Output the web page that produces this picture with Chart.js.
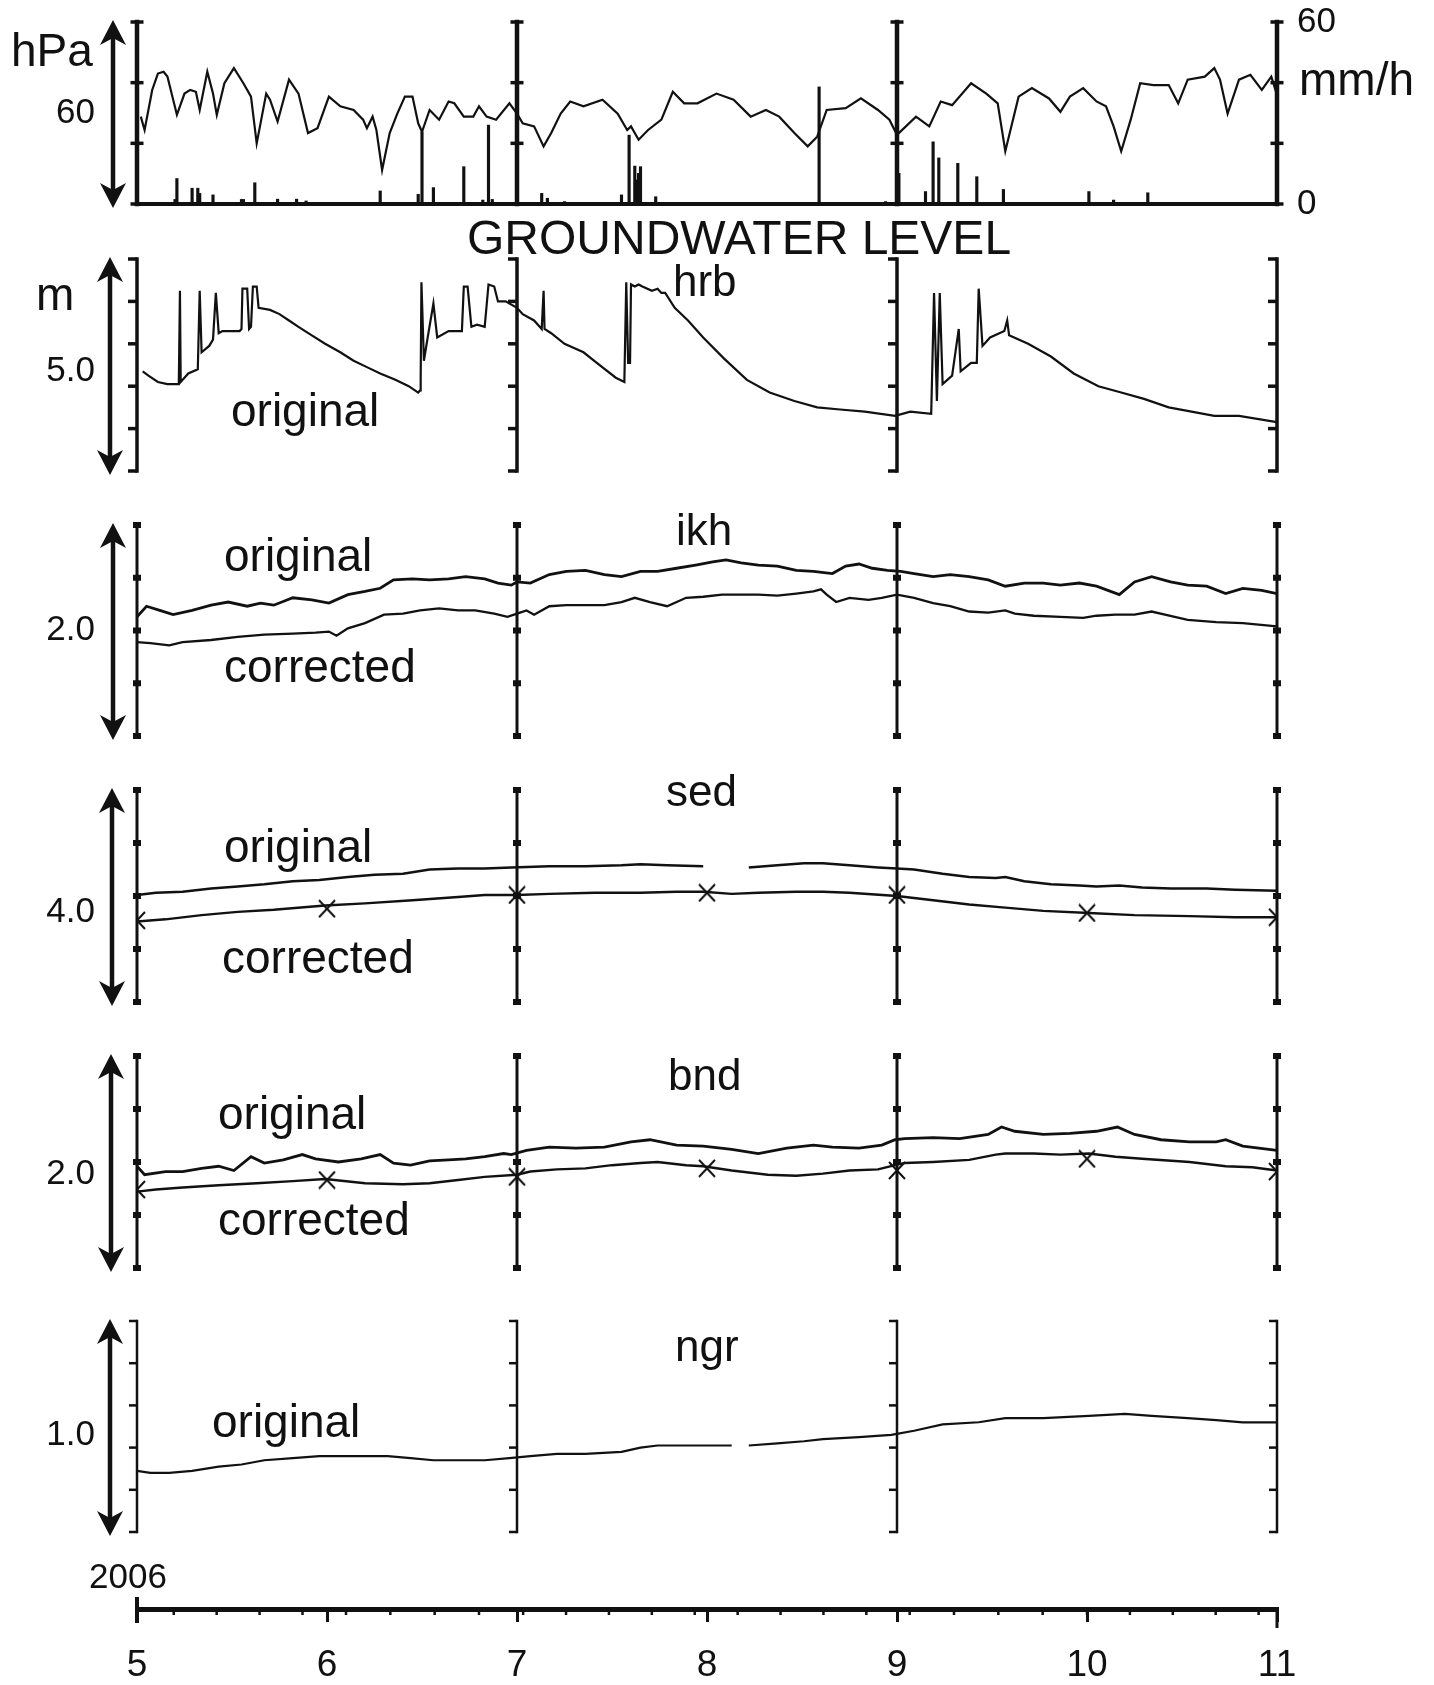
<!DOCTYPE html>
<html>
<head>
<meta charset="utf-8">
<title>Groundwater level 2006</title>
<script src="https://cdn.jsdelivr.net/npm/chart.js@4.4.1/dist/chart.umd.min.js"></script>
<style>
  html, body { margin: 0; padding: 0; background: #fff; }
  #page { position: relative; width: 1434px; height: 1685px; overflow: hidden; background: #fff; }
  #page canvas { position: absolute; left: 0; }
  .lbl { position: absolute; z-index: 2; font-family: "Liberation Sans", Arial, sans-serif;
         font-size: 46px; line-height: 1; color: #111; white-space: nowrap; }
</style>
</head>
<body>
<div id="page">
  <div class="lbl" style="left:11px;top:27px">hPa</div>
  <div class="lbl" style="left:1299px;top:56px">mm/h</div>
  <div class="lbl" style="left:467px;top:214px;font-size:48px">GROUNDWATER LEVEL</div>
  <div class="lbl" style="left:673px;top:259px;font-size:44px">hrb</div>
  <div class="lbl" style="left:36px;top:271px">m</div>
  <div class="lbl" style="left:231px;top:387px">original</div>
  <div class="lbl" style="left:676px;top:508px;font-size:44px">ikh</div>
  <div class="lbl" style="left:224px;top:532px">original</div>
  <div class="lbl" style="left:224px;top:643px">corrected</div>
  <div class="lbl" style="left:666px;top:769px;font-size:44px">sed</div>
  <div class="lbl" style="left:224px;top:823px">original</div>
  <div class="lbl" style="left:222px;top:934px">corrected</div>
  <div class="lbl" style="left:668px;top:1053px;font-size:44px">bnd</div>
  <div class="lbl" style="left:218px;top:1090px">original</div>
  <div class="lbl" style="left:218px;top:1196px">corrected</div>
  <div class="lbl" style="left:675px;top:1324px;font-size:44px">ngr</div>
  <div class="lbl" style="left:212px;top:1398px">original</div>
  <div class="lbl" style="left:89px;top:1558px;font-size:35px">2006</div>
</div>
<script>
// ---- data (month of 2006 as fractional month, 5 = 1 May) ----
const monthTicks = [5, 6, 7, 8, 9, 10, 11];
const frameMonths = [5, 7, 9, 11];
const rainAxisTicks = [0, 60];

const pressureMonth = [5.02,5.04,5.08,5.11,5.14,5.16,5.21,5.25,5.28,5.31,
  5.33,5.37,5.40,5.42,5.46,5.51,5.56,5.60,5.63,5.68,
  5.70,5.74,5.80,5.85,5.90,5.95,6.01,6.07,6.14,6.19,
  6.21,6.24,6.26,6.29,6.33,6.37,6.41,6.45,6.48,6.50,
  6.54,6.59,6.64,6.67,6.72,6.77,6.80,6.84,6.89,6.96,
  7.00,7.03,7.09,7.14,7.18,7.23,7.28,7.35,7.45,7.53,
  7.58,7.60,7.64,7.69,7.76,7.82,7.88,7.95,8.05,8.14,
  8.23,8.31,8.38,8.46,8.53,8.58,8.63,8.73,8.81,8.90,
  8.96,9.00,9.10,9.17,9.23,9.29,9.39,9.47,9.53,9.57,
  9.64,9.71,9.80,9.86,9.91,9.98,10.05,10.10,10.14,10.18,
  10.23,10.28,10.35,10.43,10.48,10.53,10.62,10.67,10.70,10.74,
  10.80,10.86,10.92,10.97,11.00];
const pressureHpa = [59.4,57.2,63.8,66.5,66.8,66.0,59.7,63.2,63.8,63.5,
  60.5,66.8,63.2,59.7,64.9,67.4,64.9,62.7,55.0,63.2,
  62.2,58.6,65.5,63.2,56.7,57.5,62.7,61.1,60.5,58.9,
  57.5,59.4,57.2,50.6,56.7,59.9,62.7,62.7,58.3,56.9,
  60.5,58.9,61.9,61.6,59.4,59.4,61.1,59.4,58.9,61.6,
  59.9,58.3,57.8,54.5,56.7,59.9,61.9,61.1,62.2,59.9,
  57.2,57.8,55.6,57.2,58.9,63.5,61.6,61.6,63.2,62.2,
  59.4,60.5,59.4,56.7,54.5,56.1,60.5,60.8,62.4,60.5,
  58.9,56.4,59.4,57.8,61.9,61.3,64.9,63.2,61.6,53.7,
  62.7,64.1,62.4,60.2,62.7,64.1,61.9,61.1,57.8,53.7,
  58.9,64.9,64.6,64.6,61.6,65.5,66.0,67.4,65.5,59.9,
  65.5,66.3,63.8,66.0,63.0];

const rainMonth = [5.20,5.21,5.29,5.32,5.33,5.40,5.55,5.56,5.62,5.74,
  5.84,5.89,6.28,6.48,6.50,6.56,6.72,6.82,6.85,6.87,
  7.13,7.16,7.25,7.55,7.59,7.62,7.63,7.64,7.65,7.73,
  8.59,8.94,9.01,9.15,9.19,9.22,9.32,9.42,9.56,10.01,
  10.14,10.32,10.72];
const rainMmh = [1.5,8.4,5.2,5.2,3.5,3.0,1.5,1.5,7.0,1.6,
  1.6,1.0,4.3,3.2,23.8,5.4,12.3,1.3,26.0,1.5,
  3.5,1.9,0.8,3.0,22.7,12.5,7.9,10.1,12.3,2.4,
  38.6,0.8,10.1,4.1,20.5,15.2,13.4,9.0,4.8,4.1,
  1.3,3.7,0.4];

const hrbMonth = [5.03,5.06,5.11,5.16,5.21,5.22,5.226,5.23,5.27,5.32,
  5.33,5.34,5.38,5.40,5.415,5.43,5.45,5.49,5.54,5.55,
  5.555,5.58,5.59,5.60,5.61,5.63,5.64,5.70,5.75,5.80,
  5.85,5.92,5.99,6.07,6.14,6.21,6.28,6.36,6.43,6.48,
  6.49,6.493,6.497,6.51,6.53,6.56,6.58,6.64,6.71,6.72,
  6.74,6.76,6.79,6.83,6.85,6.88,6.90,6.94,7.00,7.03,
  7.09,7.13,7.14,7.145,7.18,7.25,7.35,7.42,7.52,7.565,
  7.575,7.585,7.595,7.60,7.62,7.64,7.66,7.71,7.74,7.76,
  7.78,7.83,7.90,7.98,8.09,8.21,8.33,8.46,8.58,8.70,
  8.83,8.99,9.07,9.18,9.195,9.21,9.225,9.24,9.29,9.325,
  9.335,9.39,9.42,9.43,9.45,9.49,9.565,9.58,9.59,9.69,
  9.81,9.93,10.06,10.18,10.30,10.43,10.55,10.67,10.80,11.00];
const hrbLevel = [5.00,4.98,4.95,4.94,4.94,4.94,5.38,4.95,4.99,5.01,
  5.38,5.09,5.12,5.15,5.37,5.18,5.19,5.19,5.19,5.20,
  5.39,5.39,5.20,5.21,5.40,5.40,5.30,5.29,5.27,5.24,
  5.21,5.17,5.13,5.09,5.05,5.02,4.99,4.96,4.93,4.90,
  4.91,4.96,5.42,5.05,5.16,5.32,5.16,5.19,5.19,5.40,
  5.40,5.21,5.22,5.21,5.41,5.40,5.33,5.33,5.30,5.27,
  5.24,5.20,5.38,5.20,5.18,5.13,5.09,5.04,4.97,4.95,
  5.42,5.04,5.04,5.41,5.40,5.41,5.40,5.38,5.39,5.37,
  5.37,5.30,5.24,5.16,5.06,4.96,4.90,4.86,4.83,4.82,
  4.81,4.79,4.81,4.80,5.37,4.86,5.37,4.94,4.98,5.20,
  5.00,5.04,5.04,5.39,5.12,5.16,5.19,5.24,5.17,5.13,
  5.07,4.99,4.93,4.90,4.87,4.83,4.81,4.79,4.79,4.76];

const ikhOrigMonth = [5.00,5.05,5.12,5.19,5.29,5.39,5.48,5.58,5.65,5.72,
  5.82,5.92,6.01,6.11,6.20,6.28,6.35,6.45,6.54,6.64,
  6.73,6.83,6.90,6.97,7.00,7.07,7.17,7.26,7.36,7.46,
  7.55,7.65,7.74,7.84,7.94,8.03,8.10,8.18,8.27,8.37,
  8.47,8.56,8.66,8.73,8.80,8.87,8.95,9.02,9.09,9.19,
  9.28,9.38,9.48,9.57,9.67,9.77,9.86,9.96,10.05,10.17,
  10.25,10.34,10.44,10.53,10.63,10.73,10.82,10.92,11.00];
const ikhOrig = [2.13,2.23,2.19,2.15,2.19,2.24,2.27,2.23,2.26,2.24,
  2.31,2.29,2.26,2.34,2.37,2.40,2.48,2.49,2.48,2.49,
  2.51,2.49,2.45,2.43,2.46,2.45,2.53,2.56,2.57,2.53,
  2.51,2.56,2.56,2.59,2.62,2.65,2.67,2.64,2.62,2.61,
  2.57,2.56,2.54,2.61,2.63,2.59,2.57,2.56,2.54,2.51,
  2.53,2.51,2.48,2.42,2.45,2.45,2.43,2.45,2.42,2.34,
  2.46,2.51,2.46,2.43,2.42,2.35,2.40,2.38,2.35];
const ikhCorrMonth = [5.00,5.07,5.17,5.24,5.39,5.53,5.67,5.82,5.94,6.01,
  6.05,6.11,6.20,6.30,6.40,6.49,6.59,6.69,6.78,6.88,
  6.95,7.00,7.05,7.09,7.17,7.26,7.36,7.46,7.55,7.62,
  7.70,7.79,7.89,7.98,8.08,8.18,8.27,8.37,8.47,8.56,
  8.60,8.63,8.68,8.75,8.85,8.92,9.00,9.09,9.19,9.28,
  9.38,9.48,9.57,9.62,9.72,9.86,9.98,10.05,10.15,10.25,
  10.34,10.41,10.53,10.68,10.82,11.00];
const ikhCorr = [1.89,1.88,1.86,1.89,1.91,1.94,1.96,1.97,1.98,1.99,
  1.95,2.02,2.07,2.15,2.16,2.19,2.21,2.19,2.19,2.16,
  2.13,2.16,2.19,2.15,2.23,2.24,2.24,2.24,2.27,2.31,
  2.27,2.23,2.31,2.32,2.34,2.34,2.34,2.33,2.35,2.37,
  2.39,2.34,2.27,2.31,2.29,2.31,2.34,2.31,2.26,2.23,
  2.18,2.17,2.19,2.16,2.14,2.13,2.12,2.14,2.15,2.15,
  2.18,2.15,2.10,2.08,2.07,2.04];

const sedOrigMonth = [5.00,5.10,5.24,5.39,5.53,5.67,5.82,5.96,6.11,6.25,
  6.40,6.54,6.69,6.83,6.97,7.17,7.36,7.55,7.65,7.79,
  7.98,8.10,8.22,8.37,8.51,8.61,8.75,8.90,9.00,9.09,
  9.24,9.38,9.52,9.57,9.67,9.81,9.96,10.05,10.17,10.29,
  10.44,10.63,10.78,11.00];
const sedOrig = [4.16,4.18,4.19,4.22,4.24,4.26,4.29,4.30,4.33,4.35,
  4.36,4.40,4.41,4.41,4.42,4.43,4.43,4.44,4.45,4.44,
  4.43,null,4.42,4.44,4.46,4.46,4.44,4.42,4.41,4.40,
  4.36,4.33,4.32,4.33,4.29,4.26,4.25,4.24,4.25,4.23,
  4.22,4.22,4.21,4.20];
const sedCorrMonth = [5.00,5.15,5.34,5.53,5.72,5.99,6.20,6.45,6.69,6.83,
  7.00,7.17,7.41,7.65,7.84,7.98,8.13,8.27,8.47,8.61,
  8.75,9.00,9.19,9.38,9.57,9.77,10.01,10.25,10.54,10.78,
  11.00];
const sedCorr = [3.91,3.93,3.97,4.00,4.02,4.06,4.08,4.11,4.14,4.16,
  4.16,4.17,4.18,4.18,4.19,4.19,4.17,4.18,4.19,4.19,
  4.18,4.15,4.11,4.07,4.04,4.01,3.99,3.97,3.96,3.95,
  3.95];
const sedManualMonth = [5, 6, 7, 8, 9, 10, 11];
const sedManual = [3.92, 4.03, 4.16, 4.18, 4.16, 3.99, 3.95];

const bndOrigMonth = [5.00,5.04,5.15,5.24,5.34,5.43,5.51,5.60,5.67,5.77,
  5.87,5.94,6.06,6.18,6.28,6.35,6.44,6.54,6.64,6.73,
  6.83,6.93,6.97,7.05,7.17,7.31,7.46,7.60,7.70,7.84,
  7.98,8.13,8.27,8.42,8.56,8.66,8.80,8.92,8.99,9.04,
  9.19,9.33,9.48,9.55,9.62,9.77,9.91,10.05,10.16,10.25,
  10.39,10.54,10.68,10.73,10.82,11.00];
const bndOrig = [2.08,2.00,2.03,2.03,2.06,2.08,2.04,2.17,2.11,2.14,
  2.19,2.15,2.12,2.15,2.19,2.11,2.09,2.13,2.14,2.15,
  2.17,2.20,2.19,2.23,2.26,2.25,2.26,2.31,2.33,2.28,
  2.27,2.24,2.20,2.25,2.28,2.26,2.25,2.28,2.33,2.34,
  2.35,2.34,2.38,2.45,2.41,2.38,2.39,2.41,2.45,2.38,
  2.33,2.31,2.31,2.33,2.27,2.23];
const bndCorrMonth = [5.00,5.10,5.24,5.43,5.63,5.82,5.99,6.20,6.40,6.54,
  6.69,6.83,7.00,7.07,7.21,7.36,7.50,7.65,7.74,7.89,
  7.98,8.13,8.32,8.47,8.61,8.75,8.90,8.99,9.04,9.19,
  9.38,9.52,9.57,9.72,9.86,10.01,10.15,10.29,10.54,10.73,
  10.87,11.00];
const bndCorr = [1.84,1.86,1.88,1.90,1.92,1.94,1.96,1.92,1.91,1.92,
  1.95,1.98,2.00,2.03,2.05,2.06,2.09,2.11,2.12,2.09,
  2.08,2.04,2.00,1.99,2.01,2.04,2.05,2.09,2.11,2.12,
  2.14,2.19,2.20,2.20,2.19,2.20,2.17,2.15,2.12,2.08,
  2.07,2.04];
const bndManualMonth = [5, 6, 7, 8, 9, 10, 11];
const bndManual = [1.86, 1.95, 1.98, 2.06, 2.04, 2.15, 2.03];

const ngrMonth = [5.00,5.07,5.17,5.29,5.43,5.55,5.67,5.82,5.96,6.16,
  6.32,6.44,6.56,6.68,6.83,6.96,7.07,7.21,7.36,7.55,
  7.65,7.74,7.94,8.13,8.17,8.22,8.37,8.51,8.61,8.80,
  8.97,9.09,9.24,9.43,9.57,9.77,10.01,10.20,10.34,10.53,
  10.68,10.82,11.00];
const ngrLevel = [0.83,0.82,0.82,0.83,0.85,0.86,0.88,0.89,0.90,0.90,
  0.90,0.89,0.88,0.88,0.88,0.89,0.90,0.91,0.91,0.92,
  0.94,0.95,0.95,0.95,null,0.95,0.96,0.97,0.98,0.99,
  1.00,1.02,1.05,1.06,1.08,1.08,1.09,1.10,1.09,1.08,
  1.07,1.06,1.06];

// ---- drawing ----
const FONT = '"Liberation Sans", Arial, sans-serif';
const INK = '#111';
const PAGE_W = 1434, AREA_L = 137, AREA_R = 1277;
const page = document.getElementById('page');

Chart.defaults.font.family = FONT;
Chart.defaults.color = INK;

function pts(xs, ys) { return xs.map((x, i) => ({ x, y: ys[i] })); }

function line(xs, ys, w) {
  return { type: 'line', data: pts(xs, ys), borderColor: INK, borderWidth: w,
    pointRadius: 0, tension: 0, spanGaps: false, yAxisID: 'y' };
}

// "x" used for the manual measurements
const xMark = (() => {
  const c = document.createElement('canvas');
  c.width = 18; c.height = 19;
  const g = c.getContext('2d');
  g.strokeStyle = INK; g.lineWidth = 2;
  g.beginPath(); g.moveTo(1, 1); g.lineTo(17, 18); g.moveTo(17, 1); g.lineTo(1, 18); g.stroke();
  return c;
})();

function marks(xs, ys) {
  return { type: 'line', data: pts(xs, ys), showLine: false, pointStyle: xMark,
    pointRadius: 9, yAxisID: 'y' };
}

function drawArrow(ctx, x, y1, y2) {
  const hw = 13, hl = 25, notch = 7;
  ctx.lineWidth = 4.5;
  ctx.beginPath(); ctx.moveTo(x, y1 + hl - notch); ctx.lineTo(x, y2 - hl + notch); ctx.stroke();
  [[y1, 1], [y2, -1]].forEach(([tip, d]) => {
    ctx.beginPath();
    ctx.moveTo(x, tip);
    ctx.lineTo(x + hw, tip + d * hl);
    ctx.lineTo(x, tip + d * (hl - notch));
    ctx.lineTo(x - hw, tip + d * hl);
    ctx.closePath();
    ctx.fill();
  });
}

// vertical month bars with tick marks, plus the double arrow on the left
const framePlugin = {
  id: 'frames',
  beforeDatasetsDraw(chart, args, o) {
    const { ctx } = chart;
    const xs = chart.scales.x, ys = chart.scales.y;
    const top = ys.getPixelForValue(ys.max), bot = ys.getPixelForValue(ys.min);
    ctx.save();
    ctx.fillStyle = INK; ctx.strokeStyle = INK;
    frameMonths.forEach(m => {
      const px = xs.getPixelForValue(m);
      ctx.fillRect(px - o.lw / 2, top - o.lw / 2, o.lw, bot - top + o.lw);
      for (let k = 0; k <= o.n; k++) {
        const py = ys.getPixelForValue(ys.min + k * (ys.max - ys.min) / o.n);
        if (o.style === 'bracket') ctx.fillRect(px - o.tick, py - o.lw / 2, o.tick, o.lw);
        else if (o.style === 'dot') ctx.fillRect(px - o.tick / 2, py - 3, o.tick, 6);
        else ctx.fillRect(px - o.tick / 2, py - 1.75, o.tick, 3.5);
      }
    });
    if (o.baseline) {
      const l = xs.getPixelForValue(5), r = xs.getPixelForValue(11);
      ctx.fillRect(l - 2, bot - 2, r - l + 4, 4);
    }
    drawArrow(ctx, o.arrowX, top - 2, bot + 4);
    ctx.restore();
  }
};

function makeCanvas(top, height) {
  const cv = document.createElement('canvas');
  cv.width = PAGE_W; cv.height = height;
  cv.style.top = top + 'px';
  page.appendChild(cv);
  return cv;
}

function panel(spec, datasets, extraScales) {
  const pad = Math.min(30, spec.top);
  const cv = makeCanvas(spec.top - pad, spec.bottom - spec.top + 2 * pad);
  const scales = {
    x: { type: 'linear', min: 5, max: 11, display: false, offset: false },
    y: { type: 'linear', min: spec.min, max: spec.max, position: 'left',
      grid: { display: false, drawTicks: false }, border: { display: false },
      afterBuildTicks: s => { s.ticks = [{ value: spec.label }]; },
      afterFit: s => { s.width = AREA_L; s.paddingTop = 0; s.paddingBottom = 0; },
      ticks: { font: { size: 35 }, color: INK, padding: 42, callback: v => v.toFixed(spec.dec) } },
    ...(extraScales || {})
  };
  return new Chart(cv, {
    type: 'line',
    data: { datasets },
    options: {
      responsive: false, animation: false, events: [], devicePixelRatio: 1,
      layout: { padding: { top: pad, bottom: pad, left: 0, right: extraScales ? 0 : PAGE_W - AREA_R } },
      plugins: { legend: { display: false }, tooltip: { enabled: false }, frames: spec.frame },
      scales
    },
    plugins: [framePlugin]
  });
}

// pressure + rainfall
panel({ top: 22, bottom: 204, min: 45, max: 75, label: 60, dec: 0,
        frame: { style: 'I', n: 3, lw: 4.5, tick: 13, baseline: true, arrowX: 113 } },
  [ line(pressureMonth, pressureHpa, 2.2),
    { type: 'bar', data: pts(rainMonth, rainMmh), yAxisID: 'y2', backgroundColor: INK,
      barThickness: 2.5, borderWidth: 0 } ],
  { y2: { type: 'linear', min: 0, max: 60, position: 'right',
      grid: { display: false, drawTicks: false }, border: { display: false },
      afterBuildTicks: s => { s.ticks = rainAxisTicks.map(v => ({ value: v })); },
      afterFit: s => { s.width = PAGE_W - AREA_R; s.paddingTop = 0; s.paddingBottom = 0; },
      ticks: { font: { size: 35 }, color: INK, padding: 20 } } });

panel({ top: 259, bottom: 471, min: 4.53, max: 5.53, label: 5.0, dec: 1,
        frame: { style: 'bracket', n: 5, lw: 3.5, tick: 9, arrowX: 110 } },
  [ line(hrbMonth, hrbLevel, 2.2) ]);

panel({ top: 525, bottom: 736, min: 1.0, max: 3.0, label: 2.0, dec: 1,
        frame: { style: 'dot', n: 4, lw: 3, tick: 8, arrowX: 113 } },
  [ line(ikhOrigMonth, ikhOrig, 2.8), line(ikhCorrMonth, ikhCorr, 2.3) ]);

panel({ top: 790, bottom: 1002, min: 3.15, max: 5.15, label: 4.0, dec: 1,
        frame: { style: 'dot', n: 4, lw: 3, tick: 8, arrowX: 112 } },
  [ line(sedOrigMonth, sedOrig, 2.5), line(sedCorrMonth, sedCorr, 2.4),
    marks(sedManualMonth, sedManual) ]);

panel({ top: 1056, bottom: 1268, min: 1.12, max: 3.12, label: 2.0, dec: 1,
        frame: { style: 'dot', n: 4, lw: 3, tick: 8, arrowX: 111 } },
  [ line(bndOrigMonth, bndOrig, 2.8), line(bndCorrMonth, bndCorr, 2.4),
    marks(bndManualMonth, bndManual) ]);

panel({ top: 1321, bottom: 1532, min: 0.54, max: 1.54, label: 1.0, dec: 1,
        frame: { style: 'bracket', n: 5, lw: 2.5, tick: 8, arrowX: 110 } },
  [ line(ngrMonth, ngrLevel, 2.2) ]);

// weekly minor ticks (Sundays) on the time axis
function weeklyTicks() {
  const out = [];
  const d = new Date(2006, 4, 7);
  const end = new Date(2006, 10, 1);
  while (d < end) {
    const dim = new Date(d.getFullYear(), d.getMonth() + 1, 0).getDate();
    out.push(d.getMonth() + 1 + (d.getDate() - 1) / dim);
    d.setDate(d.getDate() + 7);
  }
  return out;
}

const axisPlugin = {
  id: 'axisMinor',
  afterDraw(chart) {
    const { ctx } = chart, xs = chart.scales.x, y0 = xs.top;
    ctx.save();
    ctx.fillStyle = INK;
    weeklyTicks().forEach(m => {
      const px = xs.getPixelForValue(m);
      ctx.fillRect(px - 1.25, y0, 2.5, 6);
    });
    const l = xs.getPixelForValue(5), r = xs.getPixelForValue(11);
    ctx.fillRect(l - 2, y0 - 12, 4, 26);
    ctx.fillRect(r - 1.5, y0, 3, 19);
    ctx.restore();
  }
};

new Chart(makeCanvas(1557, 128), {
  type: 'line',
  data: { datasets: [] },
  options: {
    responsive: false, animation: false, events: [], devicePixelRatio: 1,
    layout: { padding: { left: AREA_L, right: PAGE_W - AREA_R, top: 0, bottom: 0 } },
    plugins: { legend: { display: false }, tooltip: { enabled: false } },
    scales: {
      x: { type: 'linear', min: 5, max: 11, position: 'bottom', offset: false,
        afterBuildTicks: s => { s.ticks = monthTicks.map(v => ({ value: v })); },
        afterFit: s => { s.height = 76; s.paddingLeft = 0; s.paddingRight = 0; },
        grid: { display: true, drawOnChartArea: false, drawTicks: true, tickLength: 13, lineWidth: 3, color: INK },
        border: { display: true, width: 5, color: INK },
        ticks: { font: { size: 37 }, color: INK, padding: 22, maxRotation: 0, autoSkip: false } },
      y: { display: false }
    }
  },
  plugins: [axisPlugin]
});
</script>
</body>
</html>
